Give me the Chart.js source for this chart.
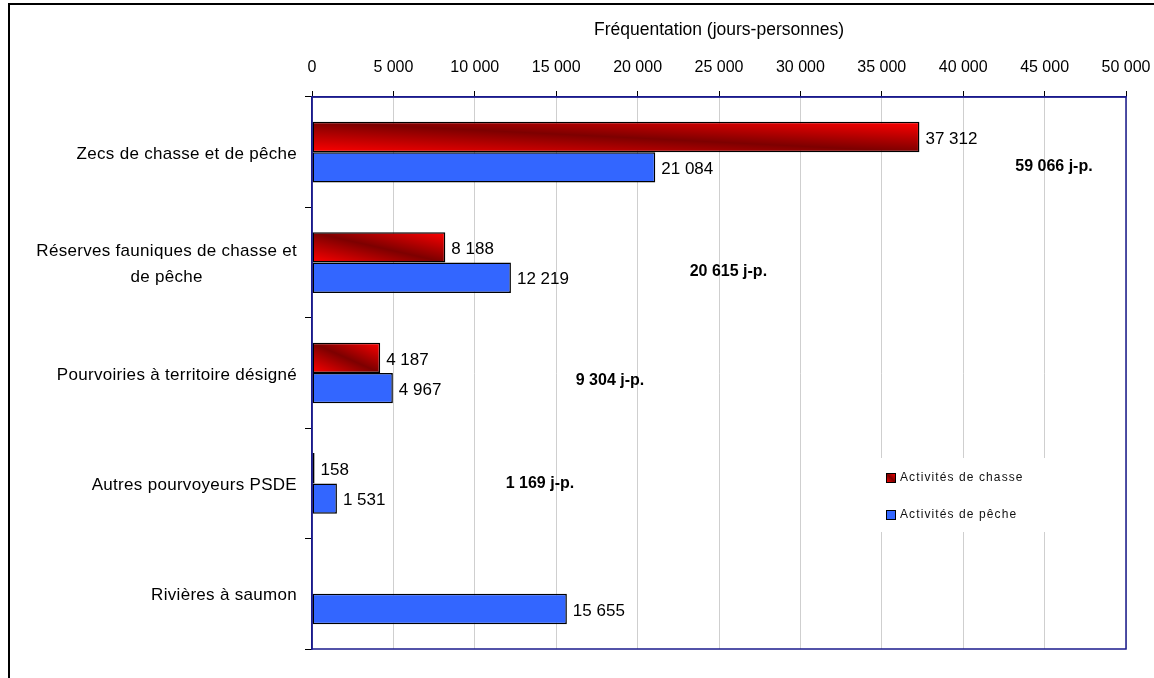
<!DOCTYPE html>
<html>
<head>
<meta charset="utf-8">
<script src="https://cdn.jsdelivr.net/npm/chart.js@4/dist/chart.umd.min.js"></script>
<style>
  html, body { margin: 0; padding: 0; background: #fff; }
  #wrap { width: 1154px; height: 678px; position: relative; }
</style>
</head>
<body>
<div id="wrap"><canvas id="myChart"></canvas></div>
<script>
// data
const categories = [
  ['Zecs de chasse et de pêche'],
  ['Réserves fauniques de chasse et', 'de pêche'],
  ['Pourvoiries à territoire désigné'],
  ['Autres pourvoyeurs PSDE'],
  ['Rivières à saumon']
];
const chasse = [37312, 8188, 4187, 158, null];
const peche = [21084, 12219, 4967, 1531, 15655];
const totals = ['59 066 j-p.', '20 615 j-p.', '9 304 j-p.', '1 169 j-p.'];
const xTickLabels = ['0', '5 000', '10 000', '15 000', '20 000', '25 000', '30 000', '35 000', '40 000', '45 000', '50 000'];

// where the free-floating total boxes sit (x in axis units, y offset in px)
const totalsAt = [[43200, 14], [23200, 9], [16200, 8], [11900, 0]];

const FONT = '"Liberation Sans", Arial, sans-serif';
const fmt = v => String(v).replace(/\B(?=(\d{3})+(?!\d))/g, ' ');

function redGradient(ctx, l, t, r, b) {
  const w = Math.max(r - l, 1), h = Math.max(b - t, 1);
  const len = Math.sqrt(w * w + h * h);
  const d = w * h / len;
  const nx = h / len, ny = -w / len;
  const cx = (l + r) / 2, cy = (t + b) / 2;
  const g = ctx.createLinearGradient(cx - nx * d, cy - ny * d, cx + nx * d, cy + ny * d);
  g.addColorStop(0, '#ff0000');
  g.addColorStop(0.5, '#7d0000');
  g.addColorStop(1, '#ff0000');
  return g;
}

function chasseFill(context) {
  const chart = context.chart;
  const x = chart.scales.x, y = chart.scales.y;
  const v = context.raw;
  if (!x || !y || v == null || context.dataIndex == null) return '#cc0000';
  const band = y.height / categories.length;
  const bh = band * 0.55 / 2;
  const cy = y.getPixelForValue(context.dataIndex);
  const l = x.getPixelForValue(0), r = x.getPixelForValue(v);
  if (![band, cy, l, r].every(Number.isFinite) || band <= 0) return '#cc0000';
  return redGradient(chart.ctx, l, cy - bh, r, cy);
}

const extras = {
  id: 'extras',
  beforeDraw(chart) {
    const ctx = chart.ctx;
    ctx.save();
    ctx.strokeStyle = '#000';
    ctx.lineWidth = 2;
    ctx.beginPath();
    ctx.moveTo(9, 678);
    ctx.lineTo(9, 4);
    ctx.lineTo(1154, 4);
    ctx.stroke();
    ctx.restore();
  },
  afterDatasetsDraw(chart) {
    const ctx = chart.ctx;
    const x = chart.scales.x, y = chart.scales.y;
    const a = chart.chartArea;
    ctx.save();

    // plot frame
    ctx.strokeStyle = '#1a1a8c';
    ctx.lineWidth = 1.5;
    ctx.strokeRect(a.left, a.top, a.right - a.left, a.bottom - a.top);

    // value labels at bar ends
    ctx.fillStyle = '#000';
    ctx.font = '17px ' + FONT;
    ctx.textBaseline = 'middle';
    ctx.textAlign = 'left';
    chart.data.datasets.forEach((ds, di) => {
      chart.getDatasetMeta(di).data.forEach((bar, i) => {
        if (ds.data[i] == null) return;
        ctx.fillText(fmt(ds.data[i]), bar.x + 6, bar.y + 2);
      });
    });

    // totals
    ctx.font = 'bold 16px ' + FONT;
    totals.forEach((t, i) => {
      ctx.fillText(t, x.getPixelForValue(totalsAt[i][0]), y.getPixelForValue(i) + totalsAt[i][1]);
    });

    // category labels: block right aligned, lines centred in block
    ctx.font = '17px ' + FONT;
    if ('letterSpacing' in ctx) ctx.letterSpacing = '0.3px';
    ctx.textAlign = 'center';
    categories.forEach((lines, i) => {
      const w = Math.max(...lines.map(s => ctx.measureText(s).width));
      const cx = 297 - w / 2;
      const cy = y.getPixelForValue(i);
      const lh = 26;
      lines.forEach((s, k) => {
        ctx.fillText(s, cx, cy + (k - (lines.length - 1) / 2) * lh + 2);
      });
    });

    // legend
    ctx.fillStyle = '#fff';
    ctx.fillRect(862, 458, 188, 74);
    const items = [
      { text: 'Activités de chasse', fill: redGradient(ctx, 886, 473, 895, 482), y: 473 },
      { text: 'Activités de pêche', fill: '#3366ff', y: 510 }
    ];
    ctx.font = '12px ' + FONT;
    ctx.textAlign = 'left';
    if ('letterSpacing' in ctx) ctx.letterSpacing = '1.1px';
    items.forEach(it => {
      ctx.fillStyle = it.fill;
      ctx.fillRect(886, it.y, 9, 9);
      ctx.strokeStyle = '#000';
      ctx.lineWidth = 1;
      ctx.strokeRect(886.5, it.y + 0.5, 9, 9);
      ctx.fillStyle = '#111';
      ctx.fillText(it.text, 900, it.y + 5);
    });
    ctx.restore();
  }
};

const ctx = document.getElementById('myChart').getContext('2d');
new Chart(ctx, {
  type: 'bar',
  data: {
    labels: categories,
    datasets: [{
      label: 'Activités de chasse',
      data: chasse,
      backgroundColor: chasseFill,
      borderColor: '#000',
      borderWidth: 1.5,
      borderSkipped: false,
      categoryPercentage: 0.55,
      barPercentage: 1
    }, {
      label: 'Activités de pêche',
      data: peche,
      backgroundColor: '#3366ff',
      borderColor: '#000',
      borderWidth: 1.5,
      borderSkipped: false,
      categoryPercentage: 0.55,
      barPercentage: 1
    }]
  },
  options: {
    indexAxis: 'y',
    responsive: true,
    maintainAspectRatio: false,
    animation: false,
    layout: { padding: { left: 0, right: 28, top: 0, bottom: 29 } },
    plugins: {
      legend: { display: false },
      tooltip: { enabled: false }
    },
    scales: {
      x: {
        position: 'top',
        min: 0,
        max: 50000,
        afterFit: s => { s.height = 97; s.paddingLeft = 0; s.paddingRight = 0; },
        afterBuildTicks: s => { s.ticks = xTickLabels.map((_, i) => ({ value: i * 5000 })); },
        ticks: {
          callback: (v, i) => xTickLabels[i],
          font: { family: FONT, size: 16 },
          color: '#000',
          padding: 14,
          maxRotation: 0
        },
        grid: { color: '#cfcfcf', lineWidth: 1, tickColor: '#000', tickLength: 6 },
        border: { color: '#1a1a8c', width: 1.5 },
        title: {
          display: true,
          text: 'Fréquentation (jours-personnes)',
          font: { family: FONT, size: 17.5 },
          color: '#000',
          padding: { top: 20, bottom: 0 }
        }
      },
      y: {
        afterFit: s => { s.width = 312; },
        ticks: { color: 'rgba(0,0,0,0)', font: { family: FONT, size: 16 } },
        grid: { offset: true, drawOnChartArea: false, drawTicks: true, tickLength: 7, tickColor: '#000' },
        border: { color: '#1a1a8c', width: 1.5 }
      }
    }
  },
  plugins: [extras]
});
</script>
</body>
</html>
